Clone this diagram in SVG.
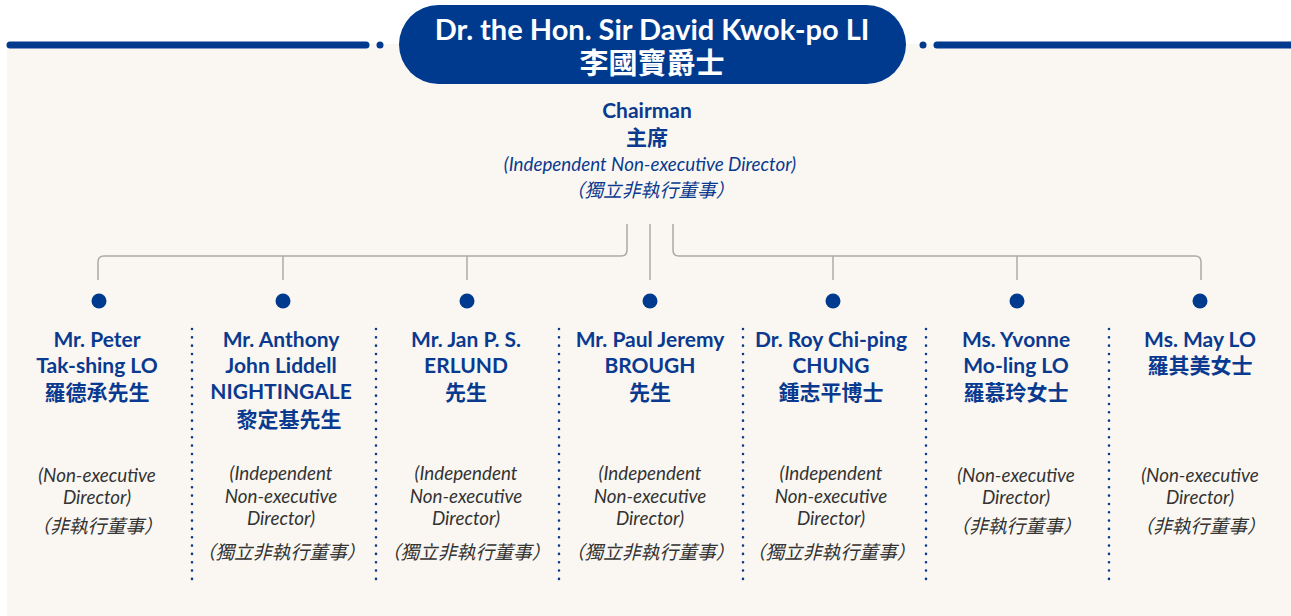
<svg xmlns="http://www.w3.org/2000/svg" width="1291" height="616" viewBox="0 0 1291 616">
<style>
.bg{fill:#faf7f2}
.bar{stroke:#003a8f;stroke-width:7;stroke-linecap:round;fill:none}
.bdot{fill:#003a8f}
.title{font-family:Lato,"Noto Sans CJK TC",sans-serif;font-weight:700;font-size:29px;fill:#ffffff;text-anchor:middle}
.name{font-family:Lato,"Noto Sans CJK TC",sans-serif;font-weight:700;font-size:21px;fill:#0a3a8f;text-anchor:middle}
.chair{font-family:Lato,"Noto Sans CJK TC",sans-serif;font-style:italic;font-size:18.8px;fill:#0a3a8f;text-anchor:middle}
.role{font-family:Lato,"Noto Sans CJK TC",sans-serif;font-style:italic;font-size:18.8px;fill:#333333;text-anchor:middle}
.conn{stroke:#ababab;stroke-width:1.5;fill:none}
.sep{stroke:#0a3a8f;stroke-width:2.6;stroke-linecap:round;stroke-dasharray:0 8.33}
</style>
<rect x="0" y="0" width="1291" height="616" fill="#ffffff"/>
<rect class="bg" x="7" y="44" width="1284" height="572"/>
<g id="header">
<line class="bar" x1="10" y1="45" x2="366" y2="45"/>
<circle class="bdot" cx="380" cy="45" r="3.5"/>
<line class="bar" x1="937" y1="45" x2="1291" y2="45"/>
<circle class="bdot" cx="923" cy="45" r="3.5"/>
</g>
<g id="chairman">
<rect x="399" y="5" width="507" height="79" rx="39.5" fill="#003a8f"/>
<text class="title" x="652" y="40">Dr. the Hon. Sir David Kwok-po LI</text>
<text class="title" x="652" y="74">李國寶爵士</text>
<text class="name" x="647" y="118">Chairman</text>
<text class="name" x="647" y="145">主席</text>
<text class="chair" x="650" y="171">(Independent Non-executive Director)</text>
<text class="chair" x="650" y="197">（獨立非執行董事）</text>
</g>
<g id="connectors">
<path class="conn" d="M627,224 V250 Q627,256 621,256 H104 Q98,256 98,262 V280"/>
<line class="conn" x1="283" y1="256" x2="283" y2="280"/>
<line class="conn" x1="467" y1="256" x2="467" y2="280"/>
<line class="conn" x1="650" y1="224" x2="650" y2="280"/>
<path class="conn" d="M673,224 V250 Q673,256 679,256 H1195 Q1201,256 1201,262 V280"/>
<line class="conn" x1="833" y1="256" x2="833" y2="280"/>
<line class="conn" x1="1017" y1="256" x2="1017" y2="280"/>
</g>
<g id="separators">
<line class="sep" x1="192" y1="329" x2="192" y2="579"/>
<line class="sep" x1="376" y1="329" x2="376" y2="579"/>
<line class="sep" x1="559" y1="329" x2="559" y2="579"/>
<line class="sep" x1="743" y1="329" x2="743" y2="579"/>
<line class="sep" x1="926" y1="329" x2="926" y2="579"/>
<line class="sep" x1="1109" y1="329" x2="1109" y2="579"/>
</g>
<g id="lo-peter">
<circle class="bdot" cx="99" cy="301" r="7.5"/>
<text class="name" x="97" y="347">Mr. Peter</text>
<text class="name" x="97" y="373">Tak-shing LO</text>
<text class="name" x="97" y="400">羅德承先生</text>
<text class="role" x="97" y="482">(Non-executive</text>
<text class="role" x="97" y="504">Director)</text>
<text class="role" x="97" y="533">（非執行董事）</text>
</g>
<g id="nightingale">
<circle class="bdot" cx="283" cy="301" r="7.5"/>
<text class="name" x="281" y="347">Mr. Anthony</text>
<text class="name" x="281" y="373">John Liddell</text>
<text class="name" x="281" y="399">NIGHTINGALE</text>
<text class="name" x="289" y="427">黎定基先生</text>
<text class="role" x="281" y="480">(Independent</text>
<text class="role" x="281" y="503">Non-executive</text>
<text class="role" x="281" y="525">Director)</text>
<text class="role" x="281" y="559">（獨立非執行董事）</text>
</g>
<g id="erlund">
<circle class="bdot" cx="467" cy="301" r="7.5"/>
<text class="name" x="466" y="347">Mr. Jan P. S.</text>
<text class="name" x="466" y="373">ERLUND</text>
<text class="name" x="466" y="400">先生</text>
<text class="role" x="466" y="480">(Independent</text>
<text class="role" x="466" y="503">Non-executive</text>
<text class="role" x="466" y="525">Director)</text>
<text class="role" x="466" y="559">（獨立非執行董事）</text>
</g>
<g id="brough">
<circle class="bdot" cx="650" cy="301" r="7.5"/>
<text class="name" x="650" y="347">Mr. Paul Jeremy</text>
<text class="name" x="650" y="373">BROUGH</text>
<text class="name" x="650" y="400">先生</text>
<text class="role" x="650" y="480">(Independent</text>
<text class="role" x="650" y="503">Non-executive</text>
<text class="role" x="650" y="525">Director)</text>
<text class="role" x="650" y="559">（獨立非執行董事）</text>
</g>
<g id="chung">
<circle class="bdot" cx="833" cy="301" r="7.5"/>
<text class="name" x="831" y="347">Dr. Roy Chi-ping</text>
<text class="name" x="831" y="373">CHUNG</text>
<text class="name" x="831" y="400">鍾志平博士</text>
<text class="role" x="831" y="480">(Independent</text>
<text class="role" x="831" y="503">Non-executive</text>
<text class="role" x="831" y="525">Director)</text>
<text class="role" x="831" y="559">（獨立非執行董事）</text>
</g>
<g id="lo-yvonne">
<circle class="bdot" cx="1017" cy="301" r="7.5"/>
<text class="name" x="1016" y="347">Ms. Yvonne</text>
<text class="name" x="1016" y="373">Mo-ling LO</text>
<text class="name" x="1016" y="400">羅慕玲女士</text>
<text class="role" x="1016" y="482">(Non-executive</text>
<text class="role" x="1016" y="504">Director)</text>
<text class="role" x="1016" y="533">（非執行董事）</text>
</g>
<g id="lo-may">
<circle class="bdot" cx="1200" cy="301" r="7.5"/>
<text class="name" x="1200" y="347">Ms. May LO</text>
<text class="name" x="1200" y="373">羅其美女士</text>
<text class="role" x="1200" y="482">(Non-executive</text>
<text class="role" x="1200" y="504">Director)</text>
<text class="role" x="1200" y="533">（非執行董事）</text>
</g>
</svg>
